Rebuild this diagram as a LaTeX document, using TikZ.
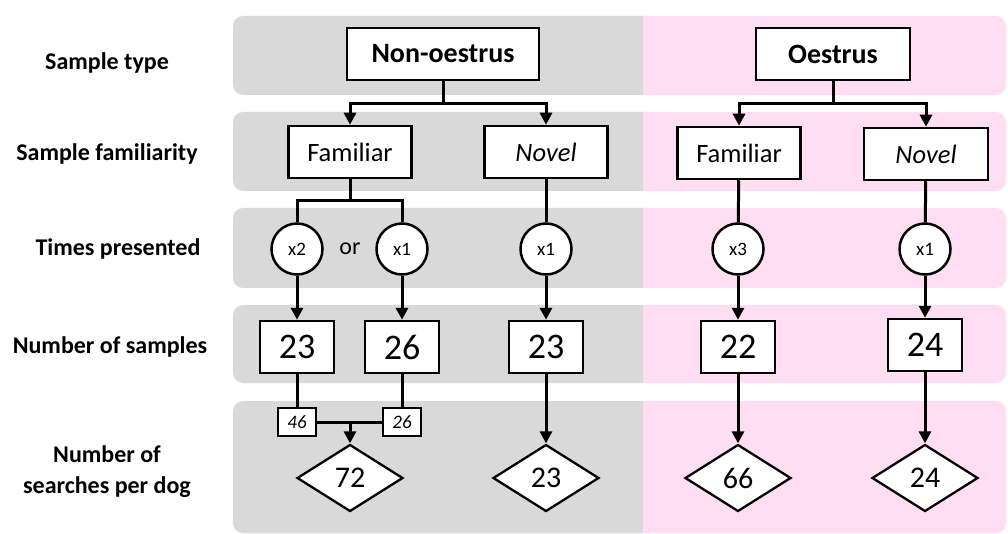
\documentclass[tikz,border=0pt]{standalone}
\usepackage{fontspec}
\setmainfont{Carlito}
\usetikzlibrary{arrows.meta, shapes.geometric}
\definecolor{bandgrey}{RGB}{217, 217, 217}
\definecolor{bandpink}{RGB}{255, 221, 243}

\begin{document}
\begin{tikzpicture}[x=1pt, y=-1pt,
  band/.style={rounded corners=10pt},
  rowlabel/.style={font=\fontsize{24}{31}\selectfont\bfseries, align=center},
  typebox/.style={draw, line width=2.5pt, fill=white, minimum width=192pt, minimum height=52pt, font=\fontsize{28}{30}\selectfont\bfseries},
  famebox/.style={draw, line width=2.5pt, fill=white, minimum width=123pt, minimum height=52pt, font=\fontsize{26.5}{28}\selectfont},
  timesnode/.style={draw, circle, line width=2.5pt, fill=white, minimum size=51pt, inner sep=0pt, font=\fontsize{19}{20}\selectfont},
  countbox/.style={draw, line width=2.5pt, fill=white, minimum width=74pt, minimum height=52pt, font=\fontsize{36}{38}\selectfont},
  subbox/.style={draw, line width=2pt, fill=white, minimum width=38pt, minimum height=28pt, inner sep=0pt, font=\fontsize{19}{20}\selectfont\itshape},
  searchnode/.style={draw, diamond, line width=2.3pt, fill=white, minimum width=106pt, minimum height=67pt, inner sep=0pt, font=\fontsize{30}{32}\selectfont},
  link/.style={line width=3pt},
  arrow/.style={link, -{Triangle[length=12pt, width=12pt]}}
]
\useasboundingbox (0,0) rectangle (1008,534);

% background bands, grey for non-oestrus and pink for oestrus
\foreach \top/\bot in {16/95, 112/191, 208/288, 305/383, 401/533} {
  \fill[bandgrey, band] (233,\top) rectangle (660,\bot);
  \fill[bandpink, band] (643,\top) rectangle (1006,\bot);
  \fill[bandpink] (643,\top) rectangle (662,\bot);
}

% row labels
\node[rowlabel] (ltype) at (107,63) {Sample type};
\node[rowlabel] (lfam) at (107,154) {Sample familiarity};
\node[rowlabel] (ltimes) at (118,249) {Times presented};
\node[rowlabel] (lsamp) at (110,347) {Number of samples};
\node[rowlabel] (lsearch) at (107,472) {Number of\\searches per dog};

% sample type
\node[typebox] (nonoes) at (443,54) {Non-oestrus};
\node[typebox, minimum width=154pt] (oes) at (833,54) {Oestrus};

% familiarity
\node[famebox] (nfam) at (350,152) {Familiar};
\node[famebox] (nnov) at (546,152) {\itshape Novel};
\node[famebox] (ofam) at (739,153) {Familiar};
\node[famebox, minimum width=124pt] (onov) at (926,154) {\itshape Novel};

% times presented
\node[timesnode] (t1) at (297,249) {x2};
\node[font=\fontsize{24}{26}\selectfont] (tor) at (350,249) {or};
\node[timesnode] (t2) at (402,249) {x1};
\node[timesnode] (t3) at (546,249) {x1};
\node[timesnode] (t4) at (738,249) {x3};
\node[timesnode] (t5) at (925,249) {x1};

% number of samples
\node[countbox] (c1) at (297,347) {23};
\node[countbox] (c2) at (402,347) {26};
\node[countbox] (c3) at (546,347) {23};
\node[countbox] (c4) at (738,347) {22};
\node[countbox] (c5) at (925,345) {24};

% searches per dog
\node[subbox] (s1) at (297,422) {46};
\node[subbox] (s2) at (402,422) {26};
\node[searchnode] (d1) at (350,478) {72};
\node[searchnode] (d2) at (546,478) {23};
\node[searchnode] (d3) at (738,478) {66};
\node[searchnode] (d4) at (925,478) {24};

% connectors
\coordinate (njoin) at (443,104);
\coordinate (ojoin) at (833,104);
\coordinate (fjoin) at (350,201);
\coordinate (sjoin) at (350,422);
\draw[link] (nonoes) -- (njoin);
\draw[arrow] (njoin) -| (nfam);
\draw[arrow] (njoin) -| (nnov);
\draw[link] (oes) -- (ojoin);
\draw[arrow] (ojoin) -| (ofam);
\draw[arrow] (ojoin) -| (onov);
\draw[link] (nfam) -- (fjoin);
\draw[link] (fjoin) -| (t1);
\draw[link] (fjoin) -| (t2);
\draw[link] (nnov) -- (t3);
\draw[link] (ofam) -- (t4);
\draw[link] (onov) -- (t5);
\foreach \i in {1,...,5} {
  \draw[arrow] (t\i) -- (c\i);
}
\draw[link] (c1) -- (s1);
\draw[link] (c2) -- (s2);
\draw[link] (s1) -- (s2);
\draw[arrow] (sjoin) -- (d1);
\draw[arrow] (c3) -- (d2);
\draw[arrow] (c4) -- (d3);
\draw[arrow] (c5) -- (d4);
\end{tikzpicture}
\end{document}
